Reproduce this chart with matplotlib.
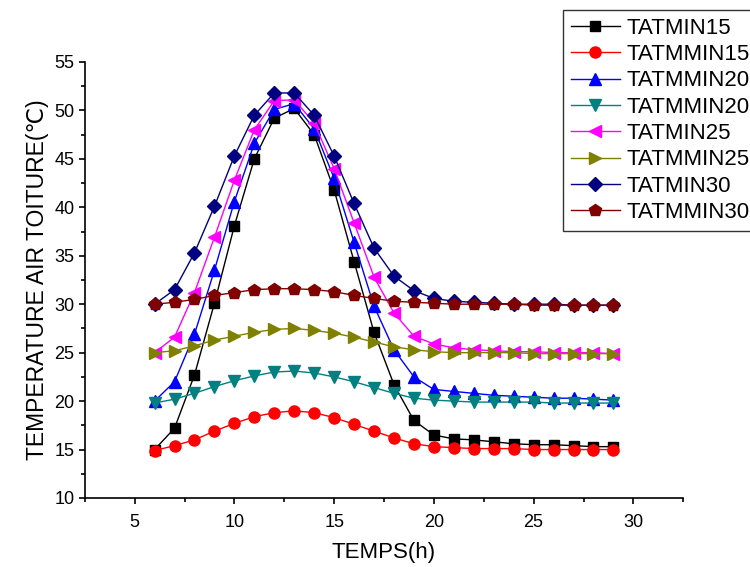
import numpy as np
import matplotlib
matplotlib.use("Agg")
import matplotlib.pyplot as plt
from matplotlib.ticker import MultipleLocator

plt.rcParams['font.family'] = ['Liberation Sans', 'DejaVu Sans']

# hours
temps_h = list(range(6, 30))

# roof air temperature series (deg C)
tatmin15 = [15.0, 17.2, 22.7, 30.1, 38.1, 45.0, 49.2, 50.2, 47.5, 41.8, 34.4, 27.1,
            21.7, 18.0, 16.5, 16.1, 16.0, 15.8, 15.6, 15.5, 15.5, 15.4, 15.3, 15.3]
tatmmin15 = [14.9, 15.4, 16.0, 16.9, 17.7, 18.4, 18.8, 19.0, 18.8, 18.3, 17.6, 16.9,
             16.2, 15.6, 15.3, 15.2, 15.1, 15.1, 15.1, 15.0, 15.0, 15.0, 15.0, 15.0]
tatmmin20_a = [20.0, 22.0, 26.9, 33.5, 40.6, 46.6, 50.1, 50.7, 48.1, 43.0, 36.4, 29.8,
               25.3, 22.5, 21.2, 21.0, 20.8, 20.6, 20.5, 20.4, 20.3, 20.3, 20.2, 20.1]
tatmmin20_b = [19.8, 20.2, 20.8, 21.5, 22.1, 22.6, 23.0, 23.1, 22.9, 22.5, 22.0, 21.4,
               20.8, 20.3, 20.1, 20.0, 19.9, 19.9, 19.9, 19.9, 19.8, 19.8, 19.8, 19.8]
tatmin25 = [25.0, 26.6, 31.2, 36.9, 42.8, 48.0, 51.0, 51.1, 48.7, 44.0, 38.4, 32.8,
            29.1, 26.7, 25.9, 25.5, 25.3, 25.2, 25.1, 25.1, 25.0, 25.0, 25.0, 24.9]
tatmmin25 = [25.0, 25.2, 25.7, 26.3, 26.7, 27.1, 27.4, 27.5, 27.3, 27.0, 26.6, 26.1,
             25.6, 25.3, 25.1, 25.0, 25.0, 25.0, 25.0, 24.9, 24.9, 24.9, 24.9, 24.9]
tatmin30 = [30.0, 31.5, 35.3, 40.1, 45.3, 49.5, 51.8, 51.8, 49.5, 45.3, 40.4, 35.8,
            32.9, 31.4, 30.6, 30.3, 30.2, 30.1, 30.0, 30.0, 30.0, 29.9, 29.9, 29.9]
tatmmin30 = [30.0, 30.2, 30.5, 30.9, 31.2, 31.5, 31.6, 31.6, 31.5, 31.3, 30.9, 30.6,
             30.3, 30.2, 30.1, 30.0, 30.0, 30.0, 30.0, 29.9, 29.9, 29.9, 29.9, 29.9]

series = [
    ("TATMIN15", tatmin15, "black", "s", 7),
    ("TATMMIN15", tatmmin15, "red", "o", 8),
    ("TATMMIN20", tatmmin20_a, "blue", "^", 8.5),
    ("TATMMIN20", tatmmin20_b, "#008080", "v", 8.5),
    ("TATMIN25", tatmin25, "magenta", "<", 8.5),
    ("TATMMIN25", tatmmin25, "#808000", ">", 8.5),
    ("TATMIN30", tatmin30, "#000080", "D", 7),
    ("TATMMIN30", tatmmin30, "#800000", "p", 9),
]

fig = plt.figure(figsize=(7.5, 5.67), dpi=100)
ax = fig.add_axes([0.113, 0.1217, 0.798, 0.769])

for label, vals, color, marker, ms in series:
    ax.plot(temps_h, vals, color=color, marker=marker, markersize=ms,
            linewidth=1.0, label=label)

ax.set_xlim(2.5, 32.5)
ax.set_ylim(10, 55)
ax.xaxis.set_major_locator(MultipleLocator(5))
ax.xaxis.set_minor_locator(MultipleLocator(2.5))
ax.yaxis.set_major_locator(MultipleLocator(5))
ax.yaxis.set_minor_locator(MultipleLocator(2.5))
ax.spines['top'].set_visible(False)
ax.spines['right'].set_visible(False)
for s in ('left', 'bottom'):
    ax.spines[s].set_linewidth(1.2)
ax.tick_params(which='major', direction='out', length=4.5, width=1.2, labelsize=13)
ax.tick_params(axis='x', which='major', pad=7)
ax.tick_params(axis='y', which='major', pad=3)
ax.tick_params(which='minor', direction='out', length=3, width=1.2)

ax.set_xlabel("TEMPS(h)", fontsize=16, labelpad=8)
ax.set_ylabel("TEMPERATURE AIR TOITURE(\u2103)", fontsize=16.5, labelpad=4)

# legend sits partly past the right edge, as in the original
leg = fig.legend(loc='upper left', bbox_to_anchor=(563 / 750, 1 - 10 / 567),
                 bbox_transform=fig.transFigure, borderaxespad=0,
                 fontsize=16, frameon=True, fancybox=False, edgecolor='black',
                 handlelength=2.2, handletextpad=0.3, labelspacing=0.24,
                 borderpad=0.35)
leg.get_frame().set_linewidth(1.0)

fig.savefig("out.png", dpi=100)
